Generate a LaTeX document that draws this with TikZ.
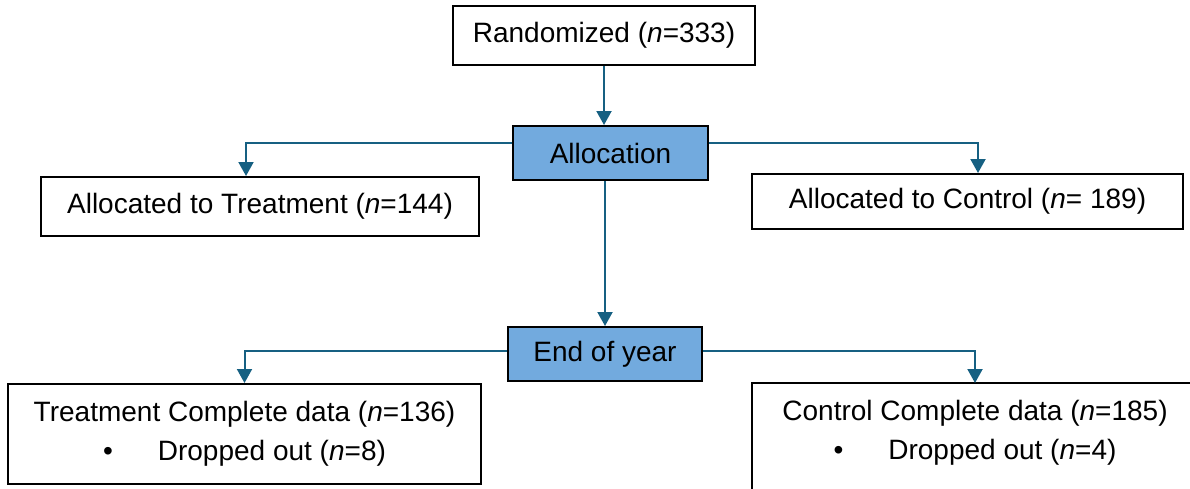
\documentclass[tikz,border=0pt]{standalone}
\usepackage{fontspec}
\setmainfont{Liberation Sans}
\usetikzlibrary{arrows.meta}

\definecolor{arrowblue}{RGB}{22,96,130}
\definecolor{boxblue}{RGB}{114,170,222}

\tikzset{
  box/.style={draw=black, line width=2pt, align=center, inner sep=0pt,
    font=\fontsize{28}{39}\selectfont},
  bluebox/.style={box, fill=boxblue},
  arr/.style={draw=arrowblue, line width=2pt, -{Triangle[width=15pt,length=14pt]}}
}

\begin{document}
\begin{tikzpicture}[x=1pt,y=-1pt]
\useasboundingbox (0,0) rectangle (1190,488);
\clip (0,0) rectangle (1190,488);

% Boxes
\node[box, minimum width=302pt, minimum height=59pt] (rand) at (604,35.5) {Randomized (\textit{n}=333)};
\node[bluebox, minimum width=195pt, minimum height=54pt] (alloc) at (610.5,153) {Allocation};
\node[box, minimum width=438pt, minimum height=59pt] (treat) at (260,206.5) {Allocated to Treatment (\textit{n}=144)};
\node[box, minimum width=431pt, minimum height=55pt] (ctrl) at (967.5,201.5) {Allocated to Control (\textit{n}= 189)};
\node[bluebox, minimum width=194pt, minimum height=54pt] (year) at (605,354) {End of year};
\node[box, minimum width=473pt, minimum height=100pt] (tdata) at (244.5,434) {Treatment Complete data (\textit{n}=136)\\ \textbullet\hspace{45pt}Dropped out (\textit{n}=8)};
\node[box, draw=none, minimum width=444pt, minimum height=98pt] (cdata) at (975,433) {Control Complete data (\textit{n}=185)\\ \textbullet\hspace{45pt}Dropped out (\textit{n}=4)};
% open box, runs off the page
\draw[line width=2pt] ([yshift=-20pt]cdata.south west) -- (cdata.north west) -- (cdata.north east) -- ([yshift=-20pt]cdata.south east);

% Arrows
\draw[arr] (rand.south) -- (rand.south |- alloc.north);
\draw[arr] ([yshift=10pt]alloc.west) -| ([xshift=-14pt]treat.north);
\draw[arr] ([yshift=10pt]alloc.east) -| ([xshift=10.5pt]ctrl.north);
\draw[arr] (alloc.south -| year.north) -- (year.north);
\draw[arr] ([yshift=3pt]year.west) -| (tdata.north);
\draw[arr] ([yshift=3pt]year.east) -| (cdata.north);

\end{tikzpicture}
\end{document}
